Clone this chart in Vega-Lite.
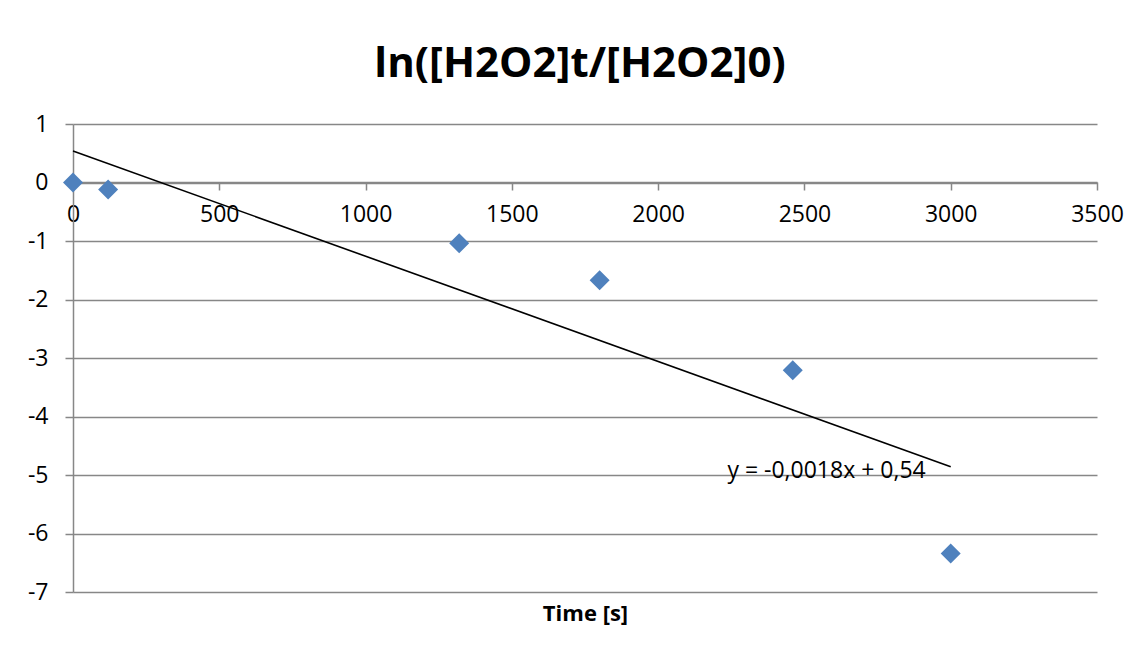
{
  "$schema": "https://vega.github.io/schema/vega-lite/v6.json",
  "width": 1024,
  "height": 468,
  "autosize": {"type": "none"},
  "padding": {"left": 73, "top": 124, "right": 41, "bottom": 63},
  "background": "white",
  "title": {
    "text": "ln([H2O2]t/[H2O2]0)",
    "font": "Open Sans",
    "fontSize": 42,
    "fontWeight": "bold",
    "color": "black",
    "anchor": "middle",
    "offset": 27,
    "dx": -5
  },
  "config": {
    "view": {"stroke": null},
    "font": "Open Sans"
  },
  "datasets": {
    "points": [
      {"time": 0, "value": 0},
      {"time": 120, "value": -0.12},
      {"time": 1320, "value": -1.04},
      {"time": 1800, "value": -1.67},
      {"time": 2460, "value": -3.21},
      {"time": 3000, "value": -6.34}
    ],
    "trend": [
      {"time": 0, "value": 0.54, "label": ""},
      {"time": 3000, "value": -4.86, "label": "y = -0,0018x + 0,54"}
    ]
  },
  "layer": [
    {
      "data": {"name": "trend"},
      "mark": {"type": "line", "color": "black", "strokeWidth": 1.6},
      "encoding": {
        "x": {
          "field": "time", "type": "quantitative",
          "scale": {"domain": [0, 3500], "nice": false, "zero": false},
          "axis": {
            "orient": "bottom",
            "offset": -410,
            "values": [0, 500, 1000, 1500, 2000, 2500, 3000, 3500],
            "format": "d",
            "grid": false,
            "domainColor": "#878787",
            "domainWidth": 1.5,
            "tickColor": "#878787",
            "tickWidth": 1.5,
            "tickSize": 8,
            "labelFont": "Open Sans",
            "labelFontSize": 23,
            "labelColor": "black",
            "labelPadding": 13,
            "labelFlush": false,
            "labelOverlap": false,
            "title": "Time [s]",
            "titleFont": "Open Sans",
            "titleFontSize": 22,
            "titleFontWeight": "bold",
            "titleColor": "black",
            "titleBaseline": "middle",
            "titleY": 431
          }
        },
        "y": {
          "field": "value", "type": "quantitative",
          "scale": {"domain": [-7, 1], "nice": false, "zero": false},
          "axis": {
            "values": [1, 0, -1, -2, -3, -4, -5, -6, -7],
            "grid": true,
            "gridColor": "#878787",
            "gridWidth": 1.5,
            "domainColor": "#878787",
            "domainWidth": 1.5,
            "tickColor": "#878787",
            "tickWidth": 1.5,
            "tickSize": 8,
            "labelFont": "Open Sans",
            "labelFontSize": 23,
            "labelColor": "black",
            "labelPadding": 17,
            "labelFlush": false,
            "labelOverlap": false,
            "labelExpr": "'' + datum.value",
            "title": null
          }
        }
      }
    },
    {
      "data": {"name": "points"},
      "mark": {"type": "point", "shape": "diamond", "filled": true, "size": 400, "color": "#4F81BD", "opacity": 1},
      "encoding": {
        "x": {"field": "time", "type": "quantitative"},
        "y": {"field": "value", "type": "quantitative"}
      }
    },
    {
      "data": {"name": "trend"},
      "mark": {"type": "text", "align": "right", "baseline": "middle", "dx": -25, "dy": 4, "fontSize": 23, "font": "Open Sans", "color": "black"},
      "encoding": {
        "x": {"field": "time", "type": "quantitative"},
        "y": {"field": "value", "type": "quantitative"},
        "text": {"field": "label"}
      }
    }
  ]
}
